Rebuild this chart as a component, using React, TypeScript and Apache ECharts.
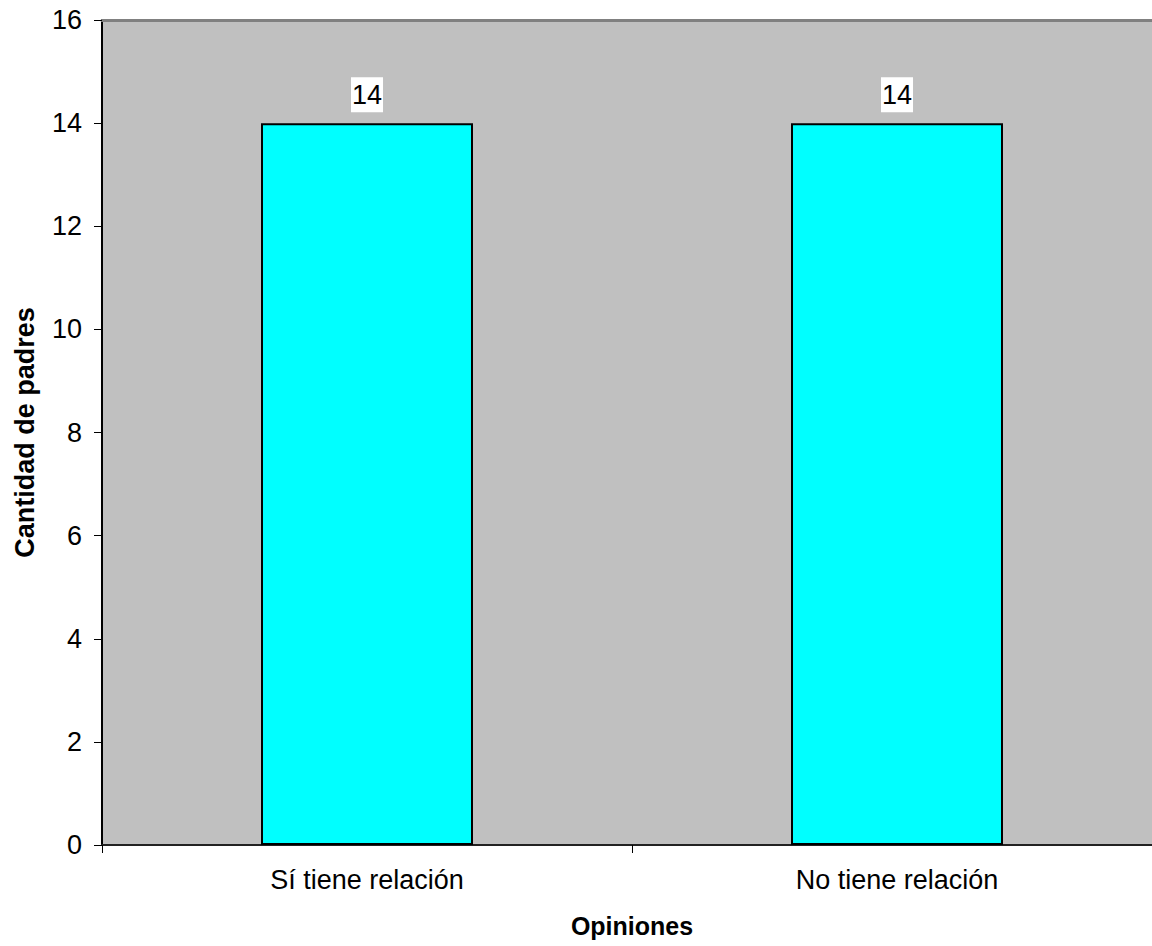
import React, { useEffect, useRef } from "react";
import * as echarts from "echarts";

const categories = ["Sí tiene relación", "No tiene relación"];
const values = [14, 14];
const yTicks = { min: 0, max: 16, interval: 2 };

export default function App() {
  const ref = useRef<HTMLDivElement>(null);
  useEffect(() => {
    const chart = echarts.init(ref.current!, null, { renderer: "svg" });
    const font = "'Liberation Sans', Arial, sans-serif";
    chart.setOption({
      animation: false,
      grid: {
        left: 102,
        top: 20,
        width: 1060,
        height: 825,
        show: true,
        backgroundColor: "#C0C0C0",
        borderWidth: 0,
        outerBoundsMode: "none",
        containLabel: false,
      },
      xAxis: [
        {
          type: "category",
          data: categories,
          position: "bottom",
          axisLine: { show: true, lineStyle: { color: "#222", width: 2 } },
          axisTick: { show: true, length: 8, interval: 0, lineStyle: { color: "#000", width: 1 } },
          axisLabel: { margin: 21, fontSize: 27, color: "#000", fontFamily: font },
          name: "Opiniones",
          nameLocation: "middle",
          nameGap: 68,
          nameTextStyle: { fontSize: 25, fontWeight: "bold", color: "#000", fontFamily: font },
        },
        {
          type: "category",
          data: categories,
          position: "top",
          axisLine: { show: true, lineStyle: { color: "#808080", width: 3 } },
          axisTick: { show: false },
          axisLabel: { show: false },
        },
      ],
      yAxis: {
        type: "value",
        min: yTicks.min,
        max: yTicks.max,
        interval: yTicks.interval,
        axisLine: { show: true, lineStyle: { color: "#000", width: 2 } },
        axisTick: { show: true, length: 8, lineStyle: { color: "#000", width: 1 } },
        axisLabel: { margin: 20, fontSize: 27, color: "#000", fontFamily: font },
        splitLine: { show: false },
        name: "Cantidad de padres",
        nameLocation: "middle",
        nameGap: 64,
        nameTextStyle: { fontSize: 27, fontWeight: "bold", color: "#000", fontFamily: font },
      },
      series: [
        {
          type: "bar",
          data: values,
          barWidth: "40%",
          itemStyle: { color: "#00FFFF", borderColor: "#000", borderWidth: 2 },
          label: {
            show: true,
            position: "top",
            distance: 11,
            fontSize: 27,
            lineHeight: 27,
            color: "#000",
            fontFamily: font,
            backgroundColor: "#fff",
            padding: [4, 1, 4, 1],
          },
        },
      ],
    });
    return () => chart.dispose();
  }, []);
  return (
    <div
      ref={ref}
      style={{ position: "absolute", left: 0, top: 0, width: 1152, height: 946 }}
    />
  );
}
